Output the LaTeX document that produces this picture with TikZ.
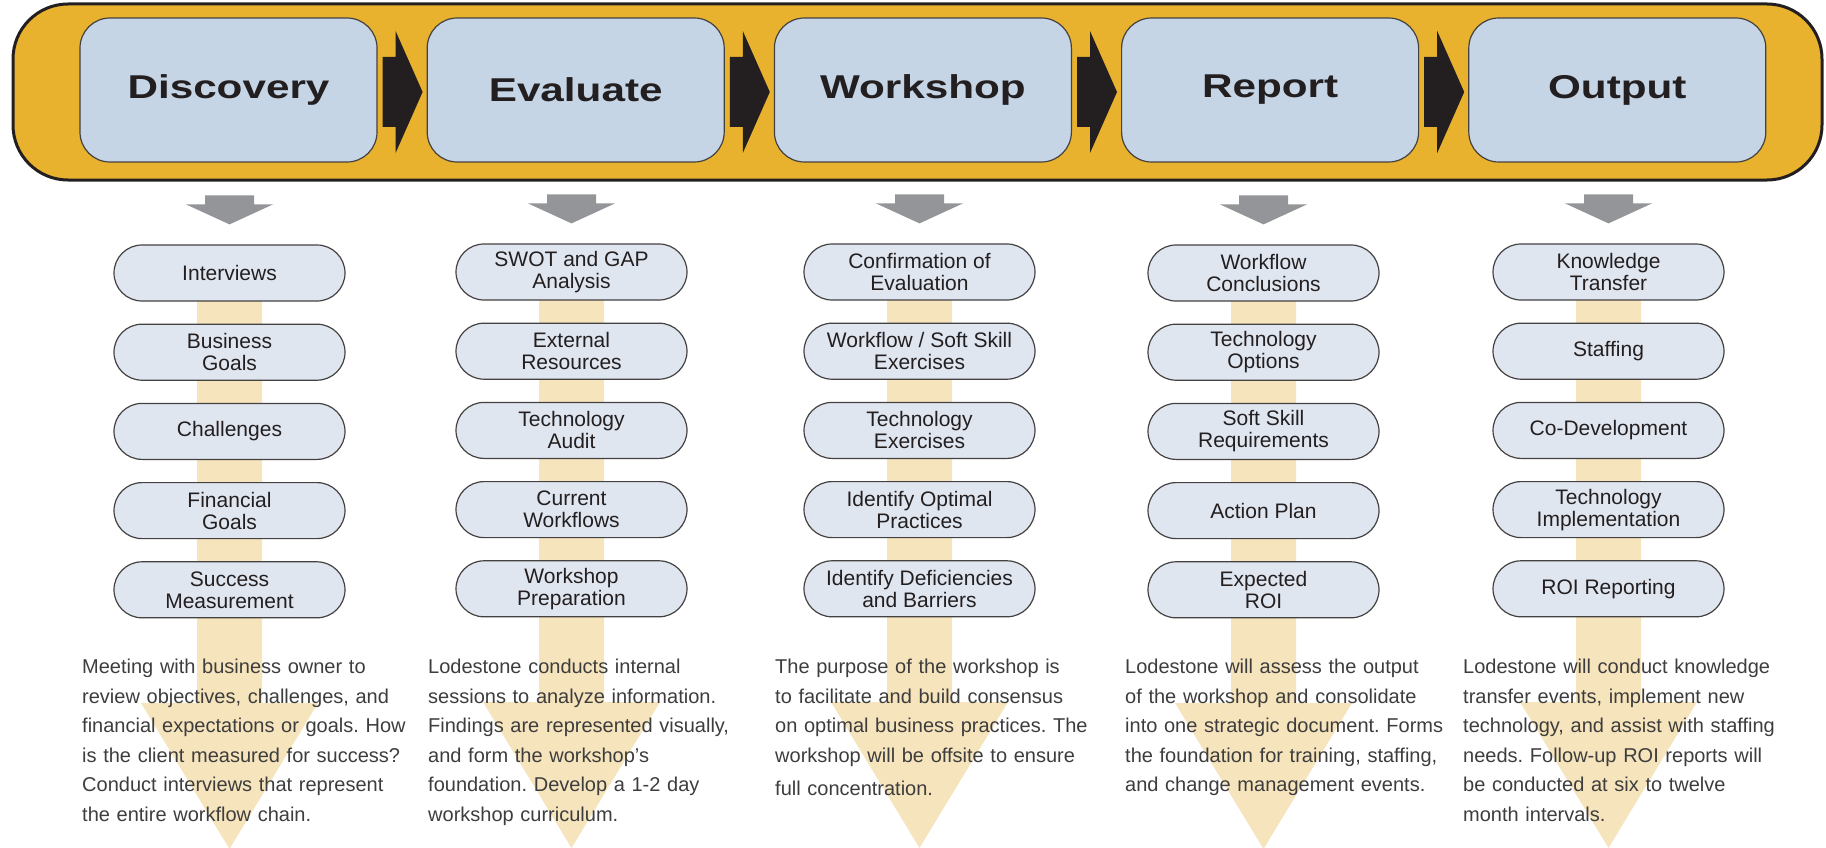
\documentclass[tikz,border=0pt]{standalone}
\usepackage{fontspec}
\setmainfont{Liberation Sans}
\newfontfamily\headfont{Liberation Sans Bold}[FakeStretch=1.28]
\usetikzlibrary{positioning,backgrounds}
\frenchspacing

\definecolor{bannergold}{HTML}{E8B22E}
\definecolor{stageblue}{HTML}{C5D5E6}
\definecolor{pillblue}{HTML}{E0E6F0}
\definecolor{arrowgray}{HTML}{939598}
\definecolor{stembeige}{HTML}{F6E4BC}
\definecolor{inkblack}{HTML}{231F20}
\definecolor{bodygray}{HTML}{3D3D3D}

\tikzset{
  banner/.style={draw=inkblack, line width=3pt, fill=bannergold, rounded corners=55pt},
  stagebox/.style={draw=inkblack!85, line width=1.2pt, fill=stageblue, rounded corners=30pt,
    minimum width=297pt, minimum height=144pt, text=inkblack,
    font=\headfont\fontsize{33}{36}\selectfont},
  flowarrow/.style={fill=inkblack},
  pill/.style={draw=inkblack!85, line width=1.2pt, fill=pillblue, rounded corners=28pt,
    minimum width=231pt, minimum height=56pt, inner sep=0pt, align=center, text=inkblack,
    font=\fontsize{21}{22}\selectfont},
  downarrow/.style={fill=arrowgray},
  stem/.style={fill=stembeige},
  para/.style={anchor=north west, inner sep=0pt, text width=340pt, align=left, text=bodygray,
    font=\fontsize{20}{29.5}\selectfont},
}

\begin{document}
\begin{tikzpicture}[x=1pt,y=-1pt]
\useasboundingbox (0,0) rectangle (1826,848);

% top band with the five stages
\draw[banner] (13,4) rectangle (1822,180);

\node[stagebox] (disc) at (228.5,90) {Discovery};
\node[stagebox, right=49pt of disc] (eval) {Evaluate};
\node[stagebox, right=49pt of eval] (work) {Workshop};
\node[stagebox, right=49pt of work] (rep) {Report};
\node[stagebox, right=49pt of rep] (out) {Output};

\foreach \a in {disc,eval,work,rep}
  \fill[flowarrow] ([xshift=5pt,yshift=-2pt]\a.east) ++(0,-35) -- ++(13,0) -- ++(0,-26)
    -- ++(27,61) -- ++(-27,61) -- ++(0,-26) -- ++(-13,0) -- cycle;

% steps of each stage
\node[pill] (d1) at (229.5,273) {Interviews};
\node[pill, below=22pt of d1] (d2) {Business\\Goals};
\node[pill, below=22pt of d2] (d3) {Challenges};
\node[pill, below=22pt of d3] (d4) {Financial\\Goals};
\node[pill, below=22pt of d4] (d5) {Success\\Measurement};

\node[pill] (e1) at (571.5,272) {SWOT and GAP\\Analysis};
\node[pill, below=22pt of e1] (e2) {External\\Resources};
\node[pill, below=22pt of e2] (e3) {Technology\\Audit};
\node[pill, below=22pt of e3] (e4) {Current\\Workflows};
\node[pill, below=22pt of e4] (e5) {Workshop\\Preparation};

\node[pill] (w1) at (919.5,272) {Confirmation of\\Evaluation};
\node[pill, below=22pt of w1] (w2) {Workflow / Soft Skill\\Exercises};
\node[pill, below=22pt of w2] (w3) {Technology\\Exercises};
\node[pill, below=22pt of w3] (w4) {Identify Optimal\\Practices};
\node[pill, below=22pt of w4] (w5) {Identify Deficiencies\\and Barriers};

\node[pill] (r1) at (1263.5,273) {Workflow\\Conclusions};
\node[pill, below=22pt of r1] (r2) {Technology\\Options};
\node[pill, below=22pt of r2] (r3) {Soft Skill\\Requirements};
\node[pill, below=22pt of r3] (r4) {Action Plan};
\node[pill, below=22pt of r4] (r5) {Expected\\ROI};

\node[pill] (o1) at (1608.5,272) {Knowledge\\Transfer};
\node[pill, below=22pt of o1] (o2) {Staffing};
\node[pill, below=22pt of o2] (o3) {Co-Development};
\node[pill, below=22pt of o3] (o4) {Technology\\Implementation};
\node[pill, below=22pt of o4] (o5) {ROI Reporting};

% gray arrows into each column, beige arrows behind
\foreach \c in {d1,e1,w1,r1,o1} {
  \fill[downarrow] ([yshift=20pt]\c.north) -- ++(-43.5,-20) -- ++(19,0) -- ++(0,-9)
    -- ++(49,0) -- ++(0,9) -- ++(19,0) -- cycle;
  \begin{scope}[on background layer]
    \fill[stem] (\c.center) ++(-32.5,0) -- ++(65,0) -- ++(0,430) -- ++(56,0)
      -- ++(-88.5,146) -- ++(-88.5,-146) -- ++(56,0) -- cycle;
  \end{scope}
}

% descriptions
\node[para] (dtext) at (82,659) {Meeting with business owner to\\review objectives, challenges, and\\financial expectations or goals. How\\is the client measured for success?\\Conduct interviews that represent\\the entire workflow chain.};
\node[para] (etext) at (428,659) {Lodestone conducts internal\\sessions to analyze information.\\Findings are represented visually,\\and form the workshop’s\\foundation. Develop a 1-2 day\\workshop curriculum.};
\node[para] (wtext) at (775,659) {The purpose of the workshop is\\to facilitate and build consensus\\on optimal business practices. The\\workshop will be offsite to ensure\\[4pt]full concentration.};
\node[para] (rtext) at (1125,659) {Lodestone will assess the output\\of the workshop and consolidate\\into one strategic document. Forms\\the foundation for training, staffing,\\and change management events.};
\node[para] (otext) at (1463,659) {Lodestone will conduct knowledge\\transfer events, implement new\\technology, and assist with staffing\\needs. Follow-up ROI reports will\\be conducted at six to twelve\\month intervals.};
\end{tikzpicture}
\end{document}
